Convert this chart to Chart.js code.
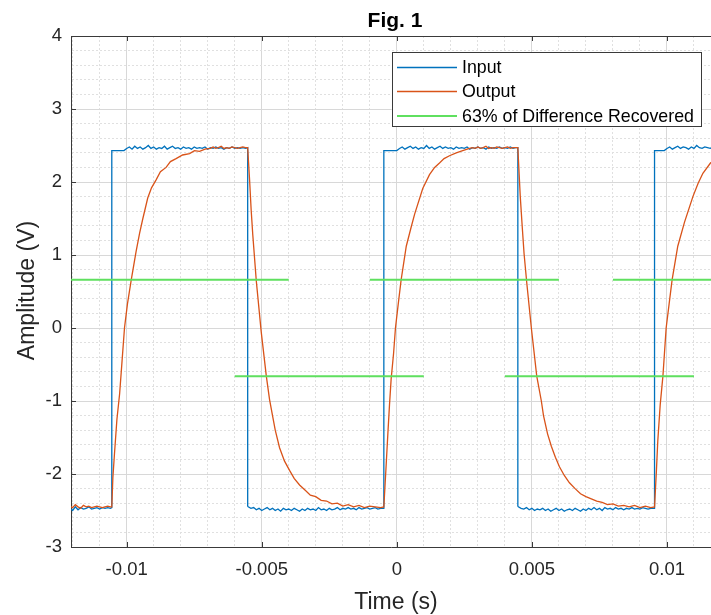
<!DOCTYPE html>
<html>
<head>
<meta charset="utf-8">
<title>Fig. 1</title>
<script src="https://cdn.jsdelivr.net/npm/chart.js@4.4.0/dist/chart.umd.min.js"></script>
<style>
  html, body { margin: 0; padding: 0; background: #fff; }
  #wrap { width: 711px; height: 615px; }
</style>
</head>
<body>
<div id="wrap"><canvas id="fig1" width="711" height="615"></canvas></div>
<script>
// --- Values (time in s, amplitude in V) ---

const inputTime = [
  // low, before the first rising edge
  -0.0121, -0.0120, -0.0119, -0.0118, -0.0117, -0.0116, -0.0115, -0.0114, -0.0113, -0.0112,
  -0.0111, -0.0110, -0.0109, -0.0108, -0.0107, -0.0106, -0.01055,
  // high
  -0.01055, -0.0101,
  -0.0100, -0.0099, -0.0098, -0.0097, -0.0096, -0.0095, -0.0094, -0.0093, -0.0092, -0.0091,
  -0.0090, -0.0089, -0.0088, -0.0087, -0.0086, -0.0085, -0.0084, -0.0083, -0.0082, -0.0081,
  -0.0080, -0.0079, -0.0078, -0.0077, -0.0076, -0.0075, -0.0074, -0.0073, -0.0072, -0.0071,
  -0.0070, -0.0069, -0.0068, -0.0067, -0.0066, -0.0065, -0.0064, -0.0063, -0.0062, -0.0061,
  -0.0060, -0.0059, -0.0058, -0.0057, -0.0056, -0.00552,
  // low
  -0.00552,
  -0.0055, -0.0054, -0.0053, -0.0052, -0.0051, -0.0050, -0.0049, -0.0048, -0.0047, -0.0046,
  -0.0045, -0.0044, -0.0043, -0.0042, -0.0041, -0.0040, -0.0039, -0.0038, -0.0037, -0.0036,
  -0.0035, -0.0034, -0.0033, -0.0032, -0.0031, -0.0030, -0.0029, -0.0028, -0.0027, -0.0026,
  -0.0025, -0.0024, -0.0023, -0.0022, -0.0021, -0.0020, -0.0019, -0.0018, -0.0017, -0.0016,
  -0.0015, -0.0014, -0.0013, -0.0012, -0.0011, -0.0010, -0.0009, -0.0008, -0.0007, -0.0006,
  -0.0005, -0.00048,
  // high
  -0.00048, 0.0000,
  0.0001, 0.0002, 0.0003, 0.0004, 0.0005, 0.0006, 0.0007, 0.0008, 0.0009, 0.0010,
  0.0011, 0.0012, 0.0013, 0.0014, 0.0015, 0.0016, 0.0017, 0.0018, 0.0019, 0.0020,
  0.0021, 0.0022, 0.0023, 0.0024, 0.0025, 0.0026, 0.0027, 0.0028, 0.0029, 0.0030,
  0.0031, 0.0032, 0.0033, 0.0034, 0.0035, 0.0036, 0.0037, 0.0038, 0.0039, 0.0040,
  0.0041, 0.0042, 0.0043, 0.0044, 0.00448,
  // low
  0.00448,
  0.0045, 0.0046, 0.0047, 0.0048, 0.0049, 0.0050, 0.0051, 0.0052, 0.0053, 0.0054,
  0.0055, 0.0056, 0.0057, 0.0058, 0.0059, 0.0060, 0.0061, 0.0062, 0.0063, 0.0064,
  0.0065, 0.0066, 0.0067, 0.0068, 0.0069, 0.0070, 0.0071, 0.0072, 0.0073, 0.0074,
  0.0075, 0.0076, 0.0077, 0.0078, 0.0079, 0.0080, 0.0081, 0.0082, 0.0083, 0.0084,
  0.0085, 0.0086, 0.0087, 0.0088, 0.0089, 0.0090, 0.0091, 0.0092, 0.0093, 0.0094,
  0.0095, 0.00954,
  // high
  0.00954, 0.0099,
  0.0100, 0.0101, 0.0102, 0.0103, 0.0104, 0.0105, 0.0106, 0.0107, 0.0108, 0.0109,
  0.0110, 0.0111, 0.0112, 0.0113, 0.0114, 0.0115, 0.0116, 0.0117
];
const inputAmp = [
  -2.47, -2.50, -2.45, -2.49, -2.46, -2.48, -2.47, -2.45, -2.48, -2.47,
  -2.46, -2.48, -2.46, -2.47, -2.46, -2.47, -2.46,

  2.43, 2.43,
  2.46, 2.48, 2.45, 2.49, 2.46, 2.48, 2.45, 2.47, 2.50, 2.46,
  2.48, 2.45, 2.47, 2.46, 2.49, 2.45, 2.47, 2.49, 2.46, 2.47,
  2.45, 2.48, 2.46, 2.47, 2.45, 2.48, 2.46, 2.47, 2.46, 2.48,
  2.45, 2.47, 2.46, 2.48, 2.46, 2.47, 2.45, 2.47, 2.46, 2.48,
  2.46, 2.47, 2.46, 2.47, 2.46, 2.47,

  -2.44,
  -2.45, -2.47, -2.46, -2.49, -2.47, -2.50, -2.48, -2.46, -2.49, -2.47,
  -2.50, -2.48, -2.51, -2.47, -2.49, -2.48, -2.50, -2.47, -2.49, -2.51,
  -2.48, -2.50, -2.47, -2.49, -2.48, -2.50, -2.46, -2.49, -2.48, -2.50,
  -2.47, -2.49, -2.48, -2.46, -2.49, -2.47, -2.48, -2.46, -2.48, -2.47,
  -2.49, -2.46, -2.48, -2.47, -2.46, -2.48, -2.47, -2.46, -2.48, -2.47,
  -2.47, -2.47,

  2.43, 2.43,
  2.46, 2.48, 2.45, 2.47, 2.49, 2.46, 2.48, 2.45, 2.47, 2.46,
  2.50, 2.46, 2.48, 2.45, 2.47, 2.49, 2.46, 2.48, 2.46, 2.47,
  2.45, 2.48, 2.46, 2.47, 2.46, 2.48, 2.45, 2.47, 2.46, 2.48,
  2.46, 2.47, 2.45, 2.48, 2.46, 2.47, 2.46, 2.48, 2.46, 2.47,
  2.46, 2.48, 2.46, 2.47, 2.47,

  -2.44,
  -2.45, -2.47, -2.48, -2.46, -2.49, -2.47, -2.50, -2.48, -2.49, -2.47,
  -2.50, -2.48, -2.51, -2.49, -2.47, -2.50, -2.48, -2.51, -2.49, -2.48,
  -2.50, -2.47, -2.49, -2.51, -2.48, -2.50, -2.47, -2.49, -2.46, -2.49,
  -2.47, -2.50, -2.46, -2.48, -2.47, -2.49, -2.46, -2.48, -2.47, -2.49,
  -2.47, -2.48, -2.46, -2.48, -2.47, -2.48, -2.46, -2.47, -2.48, -2.47,
  -2.47, -2.47,

  2.43, 2.43,
  2.46, 2.48, 2.45, 2.47, 2.49, 2.46, 2.48, 2.47, 2.45, 2.48,
  2.46, 2.50, 2.47, 2.46, 2.48, 2.47, 2.46, 2.48
];

const outputTime = [
  // settled low
  -0.0121, -0.0120, -0.0119, -0.0118, -0.0117, -0.0116, -0.0115, -0.0114, -0.0113, -0.0112,
  -0.0111, -0.0110, -0.0109, -0.0108, -0.0107, -0.0106, -0.01055,
  // charging
  -0.01051, -0.01045, -0.01036, -0.01026, -0.01017, -0.01008, -0.00997, -0.00983, -0.00965, -0.00952,
  -0.00940, -0.00922, -0.00908, -0.00891, -0.00875, -0.00854, -0.00838, -0.00817, -0.00793, -0.00767,
  -0.00749, -0.00730, -0.00710,
  -0.0069, -0.0068, -0.0067, -0.0066, -0.0065, -0.0064, -0.0063, -0.0062, -0.0061, -0.0060,
  -0.0059, -0.0058, -0.0057, -0.0056, -0.00552,
  // discharging
  -0.00545, -0.00539, -0.00533, -0.00520, -0.00502, -0.00483, -0.00471, -0.00459, -0.00450, -0.00434,
  -0.00416, -0.00397, -0.00380, -0.00360,
  -0.0034, -0.0032, -0.0030, -0.0028, -0.0026, -0.0024, -0.0022, -0.0020, -0.0018, -0.0016,
  -0.0014, -0.0012, -0.0010, -0.0008, -0.0006, -0.00048,
  // charging
  -0.00039, -0.00033, -0.00027, -0.00021, -0.00012, -0.00005, 0.00006, 0.00016, 0.00035, 0.00053,
  0.00066, 0.00078, 0.00096, 0.00121, 0.00140, 0.00158, 0.00175, 0.00195, 0.00220, 0.00244,
  0.00269,
  0.0028, 0.0029, 0.0030, 0.0031, 0.0032, 0.0033, 0.0034, 0.0035, 0.0036, 0.0037,
  0.0038, 0.0039, 0.0040, 0.0041, 0.0042, 0.0043, 0.0044, 0.00448,
  // discharging
  0.00457, 0.00464, 0.00471, 0.00481, 0.00498, 0.00518, 0.00535, 0.00543, 0.00558, 0.00572,
  0.00587, 0.00602, 0.00620, 0.00639,
  0.0066, 0.0068, 0.0070, 0.0072, 0.0074, 0.0076, 0.0078, 0.0080, 0.0082, 0.0084,
  0.0086, 0.0088, 0.0090, 0.0092, 0.0094, 0.00954,
  // charging
  0.00961, 0.00966, 0.00975, 0.00985, 0.00997, 0.01008, 0.01019, 0.01040, 0.01065, 0.01096,
  0.01115, 0.01133, 0.01161, 0.01180
];
const outputAmp = [
  -2.44, -2.46, -2.42, -2.45, -2.47, -2.43, -2.45, -2.44, -2.46, -2.45,
  -2.44, -2.45, -2.46, -2.45, -2.44, -2.45, -2.45,

  -2.05, -1.72, -1.25, -0.90, -0.45, 0.00, 0.33, 0.66, 1.05, 1.30,
  1.50, 1.78, 1.92, 2.03, 2.14, 2.20, 2.28, 2.32, 2.37, 2.39,
  2.43, 2.42, 2.45,
  2.46, 2.48, 2.46, 2.47, 2.49, 2.46, 2.47, 2.46, 2.48, 2.47,
  2.46, 2.47, 2.48, 2.47, 2.47,

  2.03, 1.61, 1.27, 0.64, -0.05, -0.66, -0.98, -1.22, -1.40, -1.64,
  -1.82, -1.95, -2.06, -2.15,
  -2.22, -2.29, -2.31, -2.36, -2.37, -2.41, -2.40, -2.44, -2.42, -2.45,
  -2.43, -2.46, -2.44, -2.45, -2.46, -2.45,

  -1.85, -1.44, -1.05, -0.70, -0.35, 0.00, 0.35, 0.66, 1.12, 1.38,
  1.56, 1.70, 1.91, 2.10, 2.20, 2.26, 2.32, 2.36, 2.40, 2.43,
  2.46,
  2.47, 2.46, 2.48, 2.46, 2.47, 2.49, 2.46, 2.47, 2.46, 2.48,
  2.47, 2.46, 2.47, 2.48, 2.46, 2.47, 2.47, 2.47,

  1.80, 1.40, 1.02, 0.62, 0.00, -0.66, -1.00, -1.20, -1.45, -1.62,
  -1.77, -1.90, -2.02, -2.12,
  -2.20, -2.27, -2.31, -2.34, -2.37, -2.39, -2.42, -2.41, -2.44, -2.43,
  -2.45, -2.43, -2.46, -2.44, -2.46, -2.45,

  -1.95, -1.55, -1.05, -0.66, 0.00, 0.33, 0.66, 1.12, 1.45, 1.80,
  1.98, 2.12, 2.26, 2.32
];

// 63% marker segments (null breaks the line between segments)
const markerTime = [-0.0121, -0.0040, -0.0040, -0.0060, 0.0010, 0.0010, -0.0010, 0.0060, 0.0060, 0.0040, 0.0110, 0.0110, 0.0080, 0.0120];
const markerAmp  = [0.66, 0.66, null, -0.66, -0.66, null, 0.66, 0.66, null, -0.66, -0.66, null, 0.66, 0.66];

const seriesLabels = ['Input', 'Output', '63% of Difference Recovered'];
const xMajorTicks = [-0.01, -0.005, 0, 0.005, 0.01];
const xTickLabels = ['-0.01', '-0.005', '0', '0.005', '0.01'];
const yMajorTicks = [-3, -2, -1, 0, 1, 2, 3, 4];
const yTickLabels = ['-3', '-2', '-1', '0', '1', '2', '3', '4'];

// --- styling ---
const FONT = '"Liberation Sans", Arial, Helvetica, sans-serif';
const axisColor = '#3a3a3a';
const majorGrid = '#d8d8d8';
const minorGrid = '#e0e0e0';
const colors = ['#0072BD', '#D95319', '#5fe05f'];

function majorIndex(list, v) {
    return list.findIndex(m => Math.abs(m - v) < 1e-9);
}

function toPoints(xs, ys) {
    return xs.map((t, i) => ({ x: t, y: ys[i] }));
}

// Title, axis labels, box edge, inward ticks and the boxed legend
const figureDecor = {
    id: 'figureDecor',
    afterDraw(chart) {
        const { ctx, chartArea: a } = chart;
        const xs = chart.scales.x;
        const ys = chart.scales.y;
        ctx.save();

        ctx.strokeStyle = axisColor;
        ctx.lineWidth = 1;
        ctx.beginPath();
        ctx.moveTo(a.left, a.top + 0.5);
        ctx.lineTo(a.right, a.top + 0.5);
        xMajorTicks.forEach(v => {
            const px = Math.round(xs.getPixelForValue(v)) + 0.5;
            ctx.moveTo(px, a.top);
            ctx.lineTo(px, a.top + 5);
            ctx.moveTo(px, a.bottom);
            ctx.lineTo(px, a.bottom - 5);
        });
        yMajorTicks.forEach(v => {
            const py = Math.round(ys.getPixelForValue(v)) + 0.5;
            ctx.moveTo(a.left, py);
            ctx.lineTo(a.left + 5, py);
        });
        ctx.stroke();

        // title
        ctx.fillStyle = '#000';
        ctx.textAlign = 'center';
        ctx.textBaseline = 'alphabetic';
        ctx.font = 'bold 21px ' + FONT;
        ctx.fillText('Fig. 1', 395, 27);

        // axis titles
        ctx.fillStyle = '#262626';
        ctx.font = '23px ' + FONT;
        ctx.fillText('Time (s)', 396, 609);
        ctx.save();
        ctx.translate(34, 290.5);
        ctx.rotate(-Math.PI / 2);
        ctx.fillText('Amplitude (V)', 0, 0);
        ctx.restore();

        // legend box
        const box = { x: 392.5, y: 52.5, w: 309, h: 74 };
        ctx.fillStyle = '#fff';
        ctx.fillRect(box.x, box.y, box.w, box.h);
        ctx.strokeStyle = axisColor;
        ctx.strokeRect(box.x, box.y, box.w, box.h);
        const rows = [67.5, 91.5, 116];
        ctx.font = '17.8px ' + FONT;
        ctx.textAlign = 'left';
        ctx.textBaseline = 'middle';
        chart.data.datasets.forEach((ds, i) => {
            ctx.strokeStyle = ds.borderColor;
            ctx.lineWidth = ds.borderWidth;
            ctx.beginPath();
            ctx.moveTo(397, rows[i]);
            ctx.lineTo(457, rows[i]);
            ctx.stroke();
            ctx.fillStyle = '#000';
            ctx.fillText(ds.label, 462, rows[i] + 1);
        });

        ctx.restore();
    }
};

const ctx = document.getElementById('fig1').getContext('2d');
new Chart(ctx, {
    type: 'line',
    data: {
        datasets: [
            {
                label: seriesLabels[0],
                data: toPoints(inputTime, inputAmp),
                borderColor: colors[0],
                borderWidth: 1.3,
                order: 3
            },
            {
                label: seriesLabels[1],
                data: toPoints(outputTime, outputAmp),
                borderColor: colors[1],
                borderWidth: 1.3,
                order: 2
            },
            {
                label: seriesLabels[2],
                data: toPoints(markerTime, markerAmp),
                borderColor: colors[2],
                borderWidth: 2,
                spanGaps: false,
                order: 1
            }
        ]
    },
    options: {
        responsive: false,
        animation: false,
        devicePixelRatio: 1,
        layout: { padding: { top: 36, left: 0, right: 0, bottom: 0 } },
        elements: {
            point: { radius: 0, hoverRadius: 0 },
            line: { tension: 0, fill: false }
        },
        plugins: {
            legend: { display: false },
            title: { display: false },
            tooltip: { enabled: false }
        },
        events: [],
        scales: {
            x: {
                type: 'linear',
                min: -0.01206,
                max: 0.01163,
                afterFit: scale => { scale.height = 68; },
                ticks: {
                    stepSize: 0.001,
                    autoSkip: false,
                    maxRotation: 0,
                    includeBounds: false,
                    padding: 12,
                    color: '#262626',
                    font: { family: FONT, size: 18.5 },
                    callback: v => {
                        const i = majorIndex(xMajorTicks, v);
                        return i >= 0 ? xTickLabels[i] : '';
                    }
                },
                grid: {
                    drawTicks: false,
                    lineWidth: 1,
                    color: c => (c.tick && majorIndex(xMajorTicks, c.tick.value) >= 0) ? majorGrid : minorGrid
                },
                border: {
                    color: axisColor,
                    width: 1,
                    dash: c => (c.tick && majorIndex(xMajorTicks, c.tick.value) < 0) ? [2, 2] : []
                }
            },
            y: {
                min: -3,
                max: 4,
                afterFit: scale => { scale.width = 71; },
                ticks: {
                    stepSize: 0.2,
                    autoSkip: false,
                    padding: 9,
                    color: '#262626',
                    font: { family: FONT, size: 18.5 },
                    callback: v => {
                        const i = majorIndex(yMajorTicks, v);
                        return i >= 0 ? yTickLabels[i] : '';
                    }
                },
                grid: {
                    drawTicks: false,
                    lineWidth: 1,
                    color: c => (c.tick && majorIndex(yMajorTicks, c.tick.value) >= 0) ? majorGrid : minorGrid
                },
                border: {
                    color: axisColor,
                    width: 1,
                    dash: c => (c.tick && majorIndex(yMajorTicks, c.tick.value) < 0) ? [2, 2] : []
                }
            }
        }
    },
    plugins: [figureDecor]
});
</script>
</body>
</html>
